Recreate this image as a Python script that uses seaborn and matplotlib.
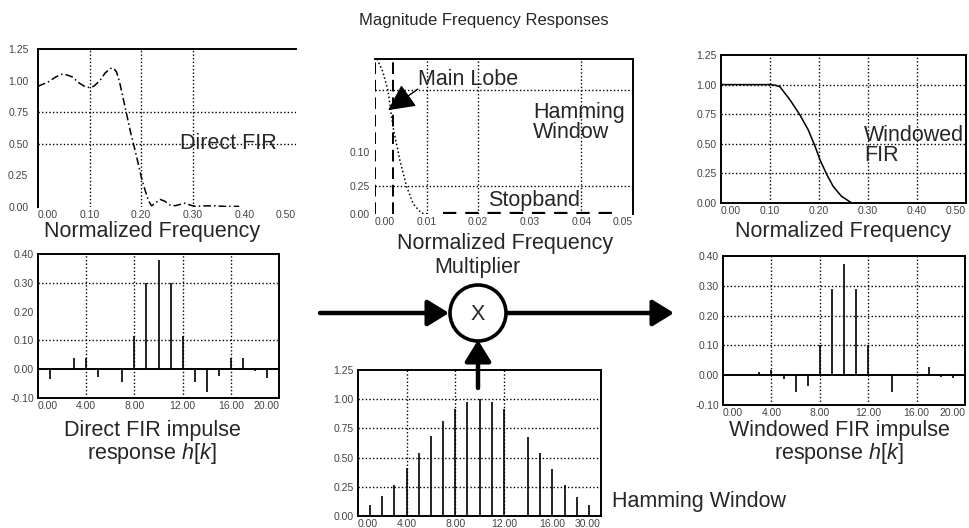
import matplotlib
matplotlib.use("Agg")
import matplotlib.pyplot as plt
import seaborn as sns
import pandas as pd
from matplotlib.patches import Circle

# ---- data ----
direct_freq = [0.0, 0.02, 0.035, 0.046, 0.056, 0.066, 0.08, 0.092, 0.1, 0.108, 0.12, 0.13,
               0.14, 0.146, 0.152, 0.158, 0.165, 0.172, 0.18, 0.188, 0.195, 0.2, 0.207,
               0.214, 0.22, 0.227, 0.237, 0.246, 0.256, 0.266, 0.275, 0.285, 0.295, 0.305,
               0.32, 0.34, 0.36, 0.39]
direct_mag = [0.955, 0.99, 1.03, 1.05, 1.045, 1.03, 0.98, 0.95, 0.945, 0.955, 1.0, 1.06,
              1.095, 1.10, 1.07, 0.99, 0.86, 0.73, 0.58, 0.45, 0.33, 0.24, 0.14,
              0.05, 0.01, 0.03, 0.06, 0.045, 0.015, 0.01, 0.02, 0.03, 0.015, 0.005,
              0.008, 0.01, 0.005, 0.005]

ham_freq = [0.0004, 0.0015, 0.0025, 0.0035, 0.0048, 0.0061, 0.0074, 0.009, 0.0101]
ham_mag = [1.0, 0.92, 0.80, 0.56, 0.35, 0.18, 0.065, 0.006, 0.0]
stop_freq = [0.0132, 0.0459]
stop_mag = [0.005, 0.005]
lobe_edges = [0.0, 0.0035]
ham_yticks = [0.0, 0.18, 0.40]
ham_yticklabels = ["0.00", "0.25", "0.10"]

win_freq = [0.0, 0.1, 0.11, 0.12, 0.141, 0.161, 0.178, 0.192, 0.202, 0.216, 0.229, 0.246, 0.267]
win_mag = [1.0, 1.0, 0.995, 0.983, 0.87, 0.744, 0.618, 0.478, 0.365, 0.239, 0.14, 0.056, 0.0]

direct_k = [1, 3, 4, 5, 7, 8, 9, 10, 11, 12, 13, 14, 15, 16, 17, 18, 19]
direct_h = [-0.035, 0.04, 0.04, -0.027, -0.045, 0.115, 0.30, 0.38, 0.30, 0.115,
            -0.045, -0.08, -0.025, 0.04, 0.04, -0.005, -0.03]

window_n = [1, 2, 3, 4, 5, 6, 7, 8, 9, 10, 11, 12, 14, 15, 16, 17, 18, 19]
window_w = [0.09, 0.17, 0.265, 0.41, 0.54, 0.685, 0.81, 0.92, 0.976, 1.0, 0.976, 0.92,
            0.676, 0.54, 0.40, 0.265, 0.166, 0.094]
window_xticklabels = ["0.00", "4.00", "8.00", "12.00", "16.00", "30.00"]

wdir_k = [3, 4, 5, 6, 7, 8, 9, 10, 11, 12, 14, 17, 18, 19]
wdir_h = [0.012, 0.017, -0.014, -0.055, -0.035, 0.103, 0.288, 0.372, 0.288, 0.103,
          -0.055, 0.028, -0.005, -0.008]

sns.set_style("white")
plt.rcParams['font.family'] = ['Liberation Sans', 'DejaVu Sans']
plt.rcParams['mathtext.fontset'] = 'custom'
plt.rcParams['mathtext.rm'] = 'Liberation Sans'
plt.rcParams['mathtext.it'] = 'Liberation Sans:italic'

W, H = 969, 528
fig = plt.figure(figsize=(W / 100, H / 100), dpi=100)

LBL = 15.5
TICK = 7.5
DOT = (0, (1, 1.6))


def box(left, top, right, bottom):
    return [left / W, 1 - bottom / H, (right - left) / W, (bottom - top) / H]


def style(ax, xlim, ylim, xticks, yticks, xlabels, ylabels, vgrid, hgrid,
          spines=("left", "right", "top", "bottom"), ypad=3):
    ax.set_xlim(*xlim)
    ax.set_ylim(*ylim)
    ax.set_xticks(xticks)
    ax.set_yticks(yticks)
    ax.set_xticklabels(xlabels)
    ax.set_yticklabels(ylabels)
    ax.tick_params(length=0, labelsize=TICK, labelcolor="#444")
    ax.tick_params(axis="x", pad=2)
    ax.tick_params(axis="y", pad=ypad)
    xl = ax.get_xticklabels()
    xl[0].set_ha("left")
    xl[-1].set_ha("right")
    for v in vgrid:
        ax.axvline(v, color="k", lw=1, ls=DOT, zorder=1)
    for h in hgrid:
        ax.axhline(h, color="k", lw=1, ls=DOT, zorder=1)
    for name, sp in ax.spines.items():
        sp.set_visible(name in spines)
        sp.set_color("k")
        sp.set_linewidth(1.4)
    ax.set_xlabel("")
    ax.set_ylabel("")
    ax.patch.set_alpha(0)


f5 = [0.0, 0.1, 0.2, 0.3, 0.4, 0.5]
f5l = ["0.00", "0.10", "0.20", "0.30", "0.40", "0.50"]
y125 = [0.0, 0.25, 0.5, 0.75, 1.0, 1.25]
y125l = ["0.00", "0.25", "0.50", "0.75", "1.00", "1.25"]
k20 = [0, 4, 8, 12, 16, 20]
k20l = ["0.00", "4.00", "8.00", "12.00", "16.00", "20.00"]
yimp = [-0.1, 0.0, 0.1, 0.2, 0.3, 0.4]
yimpl = ["-0.10", "0.00", "0.10", "0.20", "0.30", "0.40"]

# ---- top-left: direct FIR magnitude ----
ax1 = fig.add_axes(box(38, 49, 296, 207))
sns.lineplot(data=pd.DataFrame({"f": direct_freq, "m": direct_mag}), x="f", y="m",
             ax=ax1, color="k", lw=1.1, linestyle=(0, (5, 2, 1, 2)))
style(ax1, (0, 0.5), (0, 1.25), f5, y125, f5l, y125l, [0.1, 0.2, 0.3], [0.5, 0.75],
      spines=("left", "top"), ypad=7)
ax1.text(0.275, 0.5, "Direct FIR", fontsize=LBL, ha="left", va="center")

# ---- top-middle: Hamming window spectrum ----
ax2 = fig.add_axes(box(375, 59, 633, 214))
sns.lineplot(data=pd.DataFrame({"f": ham_freq, "m": ham_mag}), x="f", y="m",
             ax=ax2, color="k", lw=1.1, linestyle=DOT)
ax2.plot(stop_freq, stop_mag, color="k", lw=1.6, ls=(0, (6, 4)))
ax2.vlines(lobe_edges, 0, 1.0, colors="k", lw=1.4, linestyles=(0, (6, 3)))
ax2.hlines(1.0, lobe_edges[0], lobe_edges[1], colors="k", lw=1.4, linestyles=(0, (6, 3)))
style(ax2, (0, 0.05), (0, 1.0), [0, 0.01, 0.02, 0.03, 0.04, 0.05], ham_yticks,
      ["0.00", "0.01", "0.02", "0.03", "0.04", "0.05"], ham_yticklabels,
      [0.01, 0.02, 0.04], [0.18, 0.80], spines=("right", "top"), ypad=4)
ax2.annotate("", xy=(0.00254, 0.67), xytext=(0.0083, 0.806),
             arrowprops=dict(arrowstyle="-|>,head_length=1.1,head_width=0.55",
                             color="k", lw=1, mutation_scale=15, shrinkA=0, shrinkB=0))
ax2.text(0.0083, 0.87, "Main Lobe", fontsize=LBL, ha="left", va="center")
ax2.text(0.0306, 0.59, "Hamming\nWindow", fontsize=LBL, ha="left", va="center",
         linespacing=0.95)
ax2.text(0.0219, 0.09, "Stopband", fontsize=LBL, ha="left", va="center")

# ---- top-right: windowed FIR magnitude ----
ax3 = fig.add_axes(box(721, 55, 966, 203))
sns.lineplot(data=pd.DataFrame({"f": win_freq, "m": win_mag}), x="f", y="m",
             ax=ax3, color="k", lw=1.1)
style(ax3, (0, 0.5), (0, 1.25), f5, y125, f5l, y125l, [0.1, 0.2, 0.3, 0.4],
      [0.25, 0.5, 0.75, 1.0])
ax3.text(0.292, 0.484, "Windowed\nFIR", fontsize=LBL, ha="left", va="center",
         linespacing=0.95)

# ---- bottom-left: direct FIR impulse response ----
ax4 = fig.add_axes(box(38, 254, 279, 398))
ax4.vlines(direct_k, 0, direct_h, colors="k", lw=1.2)
ax4.axhline(0, color="k", lw=1.4)
style(ax4, (0, 20), (-0.1, 0.4), k20, yimp, k20l, yimpl, [4, 8, 12, 16], [0.1, 0.3])

# ---- bottom-middle: Hamming window ----
ax5 = fig.add_axes(box(358, 370, 601, 516))
ax5.vlines(window_n, 0, window_w, colors="k", lw=1.2)
style(ax5, (0, 20), (0, 1.25), k20, y125, window_xticklabels, y125l, [4, 8, 12],
      [0.25, 0.5, 0.75, 1.0])

# ---- bottom-right: windowed impulse response ----
ax6 = fig.add_axes(box(723, 256, 965, 405))
ax6.vlines(wdir_k, 0, wdir_h, colors="k", lw=1.2)
ax6.axhline(0, color="k", lw=1.4)
style(ax6, (0, 20), (-0.1, 0.4), k20, yimp, k20l, yimpl, [4, 8, 12, 16], [0.1, 0.2, 0.3])

# ---- overlay: block diagram and captions (figure pixels) ----
ov = fig.add_axes([0, 0, 1, 1], zorder=10)
ov.set_xlim(0, W)
ov.set_ylim(H, 0)
ov.axis("off")
ov.patch.set_alpha(0)

ov.text(484, 21, "Magnitude Frequency Responses", fontsize=12, ha="center", va="center")
ov.text(152, 232, "Normalized Frequency", fontsize=LBL, ha="center", va="center")
ov.text(505, 243, "Normalized Frequency", fontsize=LBL, ha="center", va="center")
ov.text(843, 232, "Normalized Frequency", fontsize=LBL, ha="center", va="center")
ov.text(152, 443, "Direct FIR impulse\nresponse $h$[$k$]", fontsize=LBL,
        ha="center", va="center", linespacing=1.0)
ov.text(839, 443, "Windowed FIR impulse\nresponse $h$[$k$]", fontsize=LBL,
        ha="center", va="center", linespacing=1.0)
ov.text(612, 502, "Hamming Window", fontsize=LBL, ha="left", va="center")
ov.text(477, 268, "Multiplier", fontsize=LBL, ha="center", va="center")

ov.add_patch(Circle((478, 313), 28, fill=False, ec="k", lw=2.6))
ov.text(478, 314, "X", fontsize=LBL, ha="center", va="center")
arrow = dict(arrowstyle="-|>,head_length=1.3,head_width=0.8", color="k", lw=3.2,
             mutation_scale=10, shrinkA=0, shrinkB=0)
ov.annotate("", xy=(449, 313), xytext=(320, 313), arrowprops=arrow)
ov.annotate("", xy=(674, 313), xytext=(507, 313), arrowprops=arrow)
ov.annotate("", xy=(478, 340), xytext=(478, 388), arrowprops=arrow)

fig.savefig("out.png", dpi=100)
